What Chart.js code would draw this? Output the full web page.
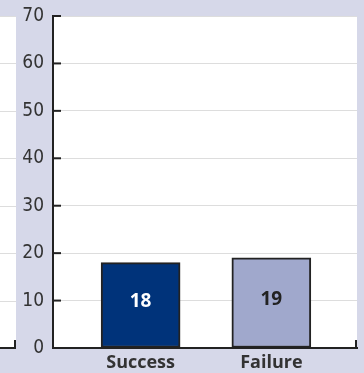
<!DOCTYPE html>
<html>
<head>
<meta charset="utf-8">
<script src="https://cdn.jsdelivr.net/npm/chart.js@4"></script>
<style>
  html, body { margin: 0; padding: 0; background: #d6d8e9; }
  #wrap { position: relative; width: 364px; height: 373px; }
</style>
</head>
<body>
<div id="wrap"><canvas id="chart" width="364" height="373"></canvas></div>
<script>
const categories = ['Success', 'Failure'];
const values = [18, 19];
const barColors = ['#00337a', '#a0a8cc'];
const valueColors = ['#ffffff', '#222222'];
const yTicks = [0, 10, 20, 30, 40, 50, 60, 70];

// white panels, gridlines, inner ticks and the bar value labels
const decor = {
  id: 'decor',
  beforeDraw(chart) {
    const { ctx, chartArea: a, scales: { y } } = chart;
    ctx.save();
    ctx.fillStyle = '#fff';
    ctx.fillRect(a.left, a.top, a.right - a.left, a.bottom - a.top + 1);
    // neighbouring panel cut off on the left
    ctx.fillRect(0, a.top, 16, a.bottom - a.top + 1);
    ctx.strokeStyle = '#dddddd';
    ctx.lineWidth = 1;
    yTicks.forEach(v => {
      if (v === 0) return;
      const py = Math.round(y.getPixelForValue(v)) + 0.5;
      ctx.beginPath(); ctx.moveTo(0, py); ctx.lineTo(16, py); ctx.stroke();
    });
    ctx.strokeStyle = '#222';
    ctx.lineWidth = 2;
    ctx.beginPath(); ctx.moveTo(0, a.bottom); ctx.lineTo(15, a.bottom); ctx.lineTo(15, a.bottom - 8); ctx.stroke();
    ctx.restore();
  },
  afterDraw(chart) {
    const { ctx, chartArea: a, scales: { y } } = chart;
    ctx.save();
    ctx.strokeStyle = '#222';
    ctx.lineWidth = 2;
    yTicks.forEach(v => {
      const py = y.getPixelForValue(v);
      ctx.beginPath(); ctx.moveTo(a.left, py); ctx.lineTo(a.left + 8, py); ctx.stroke();
    });
    ctx.beginPath(); ctx.moveTo(a.right - 1, a.bottom); ctx.lineTo(a.right - 1, a.bottom - 8); ctx.stroke();
    const meta = chart.getDatasetMeta(0);
    ctx.font = 'bold 19px "Open Sans"';
    ctx.textAlign = 'center';
    ctx.textBaseline = 'middle';
    meta.data.forEach((bar, i) => {
      ctx.fillStyle = valueColors[i];
      ctx.fillText(values[i], bar.x, (bar.y + bar.base) / 2 - 3);
    });
    ctx.restore();
  }
};

new Chart(document.getElementById('chart'), {
  type: 'bar',
  data: {
    datasets: [{
      data: values.map((v, i) => ({ x: i, y: v })),
      backgroundColor: barColors,
      borderColor: '#222',
      borderWidth: 2,
      borderSkipped: false,
      barThickness: 79
    }]
  },
  options: {
    responsive: false,
    animation: false,
    layout: { padding: { top: 16, right: 7, left: 0, bottom: 0 } },
    plugins: { legend: { display: false }, tooltip: { enabled: false } },
    scales: {
      x: {
        type: 'linear',
        offset: false,
        min: -0.67,
        max: 1.655,
        afterBuildTicks: s => { s.ticks = categories.map((c, i) => ({ value: i })); },
        afterFit: s => { s.height = 25; },
        grid: { display: false, drawTicks: false, offset: false },
        border: { display: true, color: '#222', width: 2 },
        ticks: {
          autoSkip: false,
          maxRotation: 0,
          padding: 4,
          color: '#333',
          font: { family: 'Open Sans', size: 18, weight: 'bold' },
          callback: v => categories[v]
        }
      },
      y: {
        min: 0,
        max: 70,
        afterBuildTicks: s => { s.ticks = yTicks.map(v => ({ value: v })); },
        afterFit: s => { s.width = 53; s.paddingTop = 0; s.paddingBottom = 0; },
        grid: { color: '#dddddd', drawTicks: false },
        border: { display: true, color: '#222', width: 2 },
        ticks: {
          padding: 9,
          color: '#333',
          font: { family: '"Liberation Sans Narrow", "DejaVu Sans Condensed"', size: 19, lineHeight: 1 }
        }
      }
    }
  },
  plugins: [decor]
});
</script>
</body>
</html>
